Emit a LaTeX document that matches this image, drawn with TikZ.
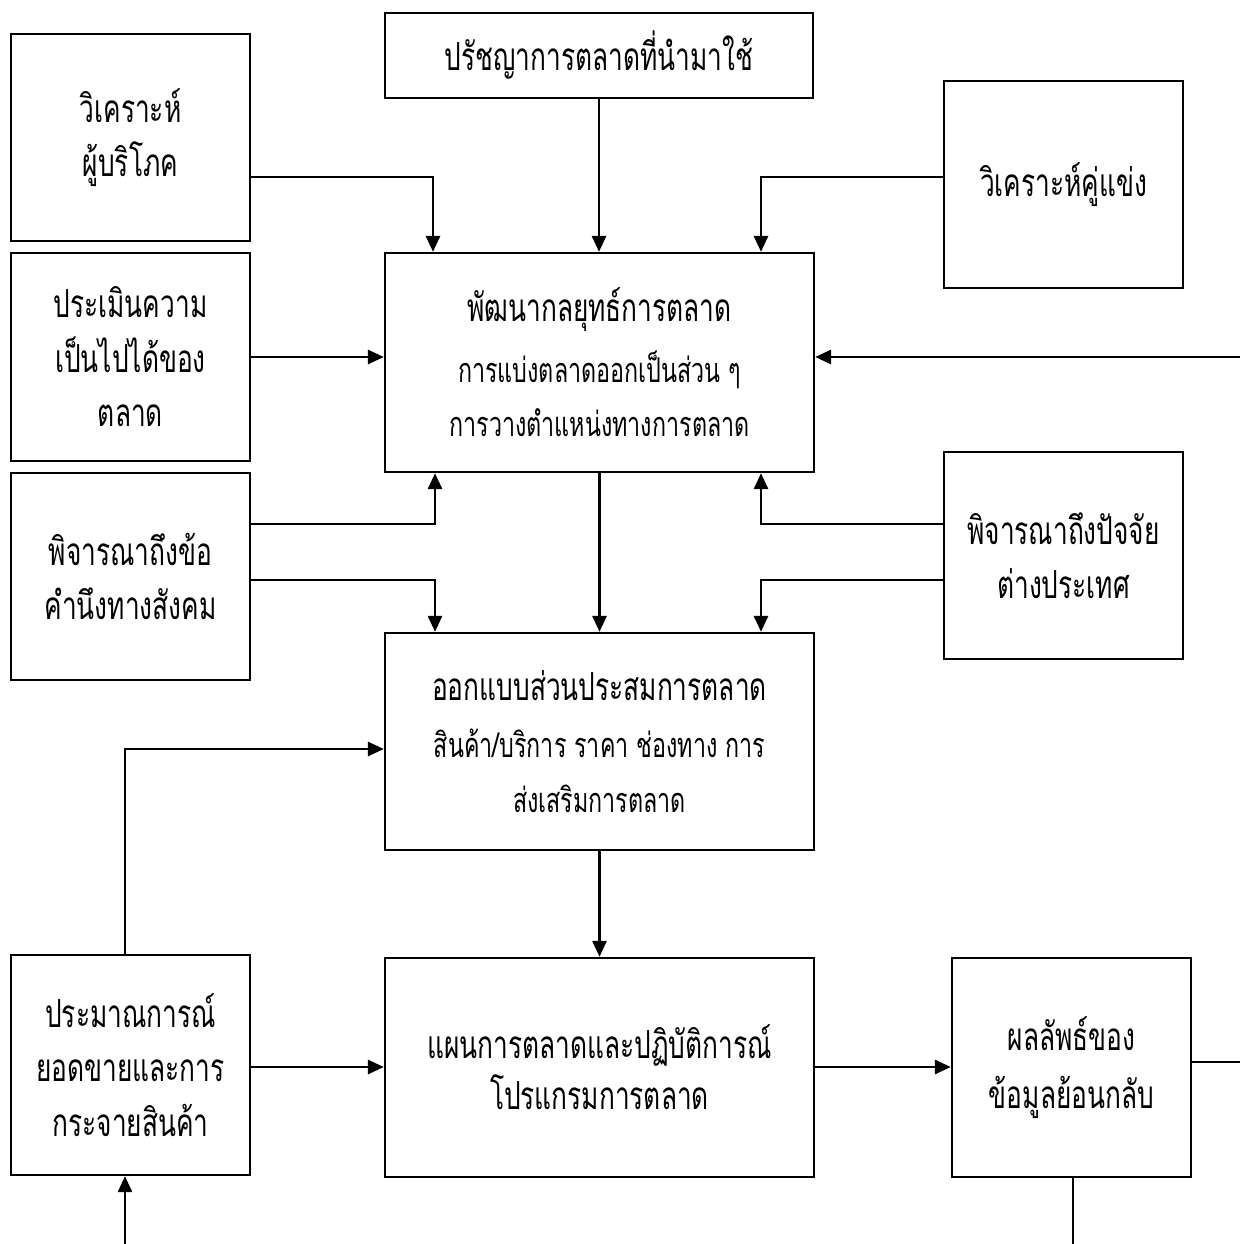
\documentclass[tikz,border=0pt]{standalone}
\usepackage{fontspec}
\newfontfamily\thai[Script=Thai, FakeStretch=0.68]{Loma}
\usetikzlibrary{arrows.meta}
\newcommand\bigthai{\fontsize{22}{31}\selectfont\thai\lineskiplimit=-1000pt\relax}
\newcommand\smallthai{\fontsize{19.5}{26.7}\selectfont\thai}
\tikzset{
  box/.style={draw, line width=1.3pt, inner sep=0pt, align=center, font=\bigthai},
  arr/.style={line width=1.6pt, -{Triangle[length=0.32cm,width=0.28cm]}},
  ln/.style={line width=1.6pt},
}
% a box given by its corners x1,y1,x2,y2 (in picture units, y downwards)
\newcommand\boxat[6]{%
  \node[box, minimum width={(#4-#2)*0.02cm}, minimum height={(#5-#3)*0.02cm}]
    (#1) at ({(#2+#4)/2},{(#3+#5)/2}) {#6};}
\begin{document}
\begin{tikzpicture}[x=0.02cm, y=-0.02cm]
\useasboundingbox (0,0) rectangle (1240,1244);

% boxes
\boxat{phil}{385}{13}{813}{98}{ปรัชญาการตลาดที่นำมาใช้}
\boxat{cons}{11}{34}{250}{241}{วิเคราะห์\\ผู้บริโภค}
\boxat{comp}{944}{81}{1183}{288}{วิเคราะห์คู่แข่ง}
\boxat{feas}{11}{253}{250}{461}{ประเมินความ\\เป็นไปได้ของ\\ตลาด}
\boxat{strat}{385}{253}{814}{472}{\fontsize{22}{26.7}\selectfont พัฒนากลยุทธ์การตลาด\\[3.3pt]
  {\smallthai การแบ่งตลาดออกเป็นส่วน ๆ}\\{\smallthai การวางตำแหน่งทางการตลาด}}
\boxat{soc}{11}{473}{250}{680}{พิจารณาถึงข้อ\\คำนึงทางสังคม}
\boxat{intl}{944}{452}{1183}{659}{พิจารณาถึงปัจจัย\\ต่างประเทศ}
\boxat{mix}{385}{633}{814}{850}{\fontsize{22}{26.7}\selectfont ออกแบบส่วนประสมการตลาด\\[1.5pt]
  {\smallthai สินค้า/บริการ ราคา ช่องทาง การ}\\{\smallthai ส่งเสริมการตลาด}}
\boxat{fore}{11}{955}{250}{1175}{ประมาณการณ์\\ยอดขายและการ\\กระจายสินค้า}
\boxat{plan}{385}{958}{814}{1177}{แผนการตลาดและปฏิบัติการณ์\\[-2pt]โปรแกรมการตลาด}
\boxat{res}{952}{958}{1191}{1177}{ผลลัพธ์ของ\\[2pt]ข้อมูลย้อนกลับ}

% free ends of the feedback lines
\coordinate (fbin) at (1240,357);
\coordinate (fbout) at (1240,1062);
\coordinate (fbdown) at (1073,1244);
\coordinate (fbup) at (125,1244);

% connectors
\draw[arr] (phil.south) -- (phil.south |- strat.north);
\draw[arr] (cons.east |- 0,177) -| (433,0 |- strat.north);
\draw[arr] (comp.west |- 0,177) -| (761,0 |- strat.north);
\draw[arr] (feas.east |- 0,357) -- (strat.west |- 0,357);
\draw[arr] (fbin) -- (strat.east |- fbin);
\draw[arr] (soc.east |- 0,524) -| (435,0 |- strat.south);
\draw[arr] (soc.east |- 0,580) -| (435,0 |- mix.north);
\draw[arr] (intl.west |- 0,524) -| (761,0 |- strat.south);
\draw[arr] (intl.west |- 0,580) -| (761,0 |- mix.north);
\draw[arr] (strat.south) -- (mix.north);
\draw[arr] (mix.south) -- (plan.north);
\draw[arr] (125,0 |- fore.north) |- (mix.west |- 0,749);
\draw[arr] (fore.east |- 0,1067) -- (plan.west |- 0,1067);
\draw[arr] (plan.east |- 0,1067) -- (res.west |- 0,1067);
\draw[ln] (res.east |- fbout) -- (fbout);
\draw[ln] (fbdown |- res.south) -- (fbdown);
\draw[arr] (fbup) -- (fbup |- fore.south);
\end{tikzpicture}
\end{document}
